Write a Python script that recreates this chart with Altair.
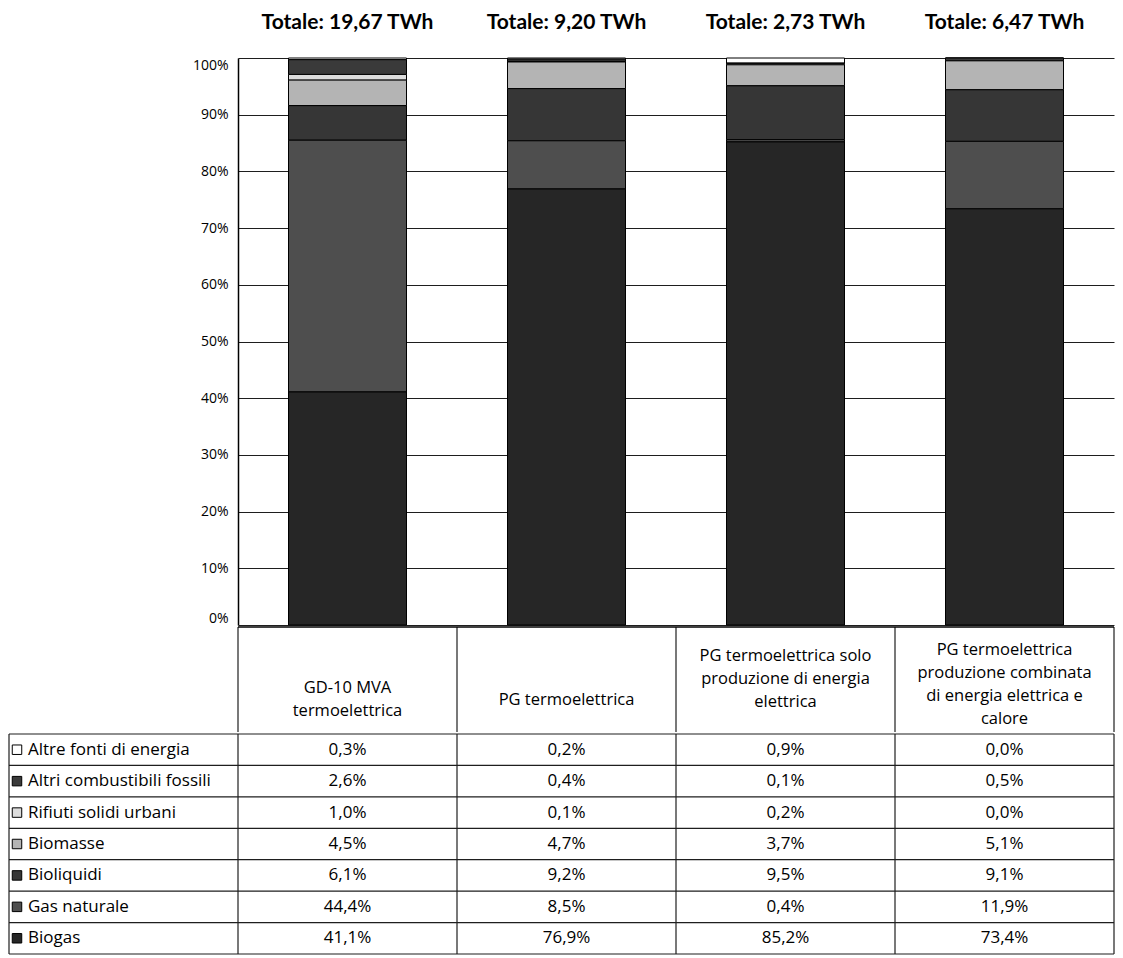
import altair as alt
import pandas as pd

# ---- data ----
columns = [
    "GD-10 MVA\ntermoelettrica",
    "PG termoelettrica",
    "PG termoelettrica solo\nproduzione di energia\nelettrica",
    "PG termoelettrica\nproduzione combinata\ndi energia elettrica  e\ncalore",
]
col_ids = ["c1", "c2", "c3", "c4"]
totals = ["Totale: 19,67 TWh", "Totale: 9,20 TWh", "Totale: 2,73 TWh", "Totale: 6,47 TWh"]

# table order (top to bottom)
sources = [
    "Altre fonti di energia",
    "Altri combustibili fossili",
    "Rifiuti solidi urbani",
    "Biomasse",
    "Bioliquidi",
    "Gas naturale",
    "Biogas",
]
altre_fonti = [0.3, 0.2, 0.9, 0.0]
altri_comb = [2.6, 0.4, 0.1, 0.5]
rifiuti = [1.0, 0.1, 0.2, 0.0]
biomasse = [4.5, 4.7, 3.7, 5.1]
bioliquidi = [6.1, 9.2, 9.5, 9.1]
gas_naturale = [44.4, 8.5, 0.4, 11.9]
biogas = [41.1, 76.9, 85.2, 73.4]
series = [altre_fonti, altri_comb, rifiuti, biomasse, bioliquidi, gas_naturale, biogas]

colors = ["#ffffff", "#3a3a3a", "#dcdcdc", "#b4b4b4", "#363636", "#4e4e4e", "#262626"]

rows = []
for si, (s, vals) in enumerate(zip(sources, series)):
    for ci, v in enumerate(vals):
        rows.append({
            "col": col_ids[ci],
            "source": s,
            "value": v,
            "label": f"{v:.1f}%".replace(".", ","),
            "stack": len(sources) - si,  # Biogas at the bottom
        })
df = pd.DataFrame(rows)
df_cols = pd.DataFrame({
    "col": col_ids,
    "header": columns,
    "nlines": [h.count("\n") + 1 for h in columns],
    "total": totals,
})
df_src = pd.DataFrame({"source": sources})
one = pd.DataFrame({"k": [0]})

W = 876
LEFT = -229
H_BARS = 567
H_HEAD = 105
H_ROWS = 220
FONT = "Open Sans"
TFONT = "Lato"
LINE = "#1e1e1e"
TS = 17

xscale = alt.Scale(domain=col_ids, paddingInner=0, paddingOuter=0)
cscale = alt.Scale(domain=sources, range=colors)

# ---- stacked bars ----
bars = alt.Chart(df).mark_bar(size=118, stroke="#000000", strokeWidth=1).encode(
    x=alt.X("col:N", scale=xscale, axis=None),
    y=alt.Y("value:Q", stack="normalize",
            scale=alt.Scale(domain=[0, 1], nice=False),
            axis=alt.Axis(format=".0%",
                          values=[0, 0.1, 0.2, 0.3, 0.4, 0.5, 0.6, 0.7, 0.8, 0.9, 1.0],
                          labelOverlap=False, labelFlush=True,
                          title=None, grid=True, gridColor=LINE, gridWidth=1,
                          domainColor="#000000", domainWidth=1.5, ticks=False,
                          labelFont=FONT, labelFontSize=14, labelColor="#000000",
                          labelPadding=10)),
    color=alt.Color("source:N", scale=cscale, legend=None),
    order=alt.Order("stack:Q"),
)

tot_text = alt.Chart(df_cols).mark_text(
    font=TFONT, fontSize=21, fontWeight="bold", color="#000000", baseline="middle"
).encode(
    x=alt.X("col:N", scale=xscale),
    y=alt.value(-35),
    text="total:N",
)

top_chart = alt.layer(bars, tot_text).properties(width=W, height=H_BARS)

# ---- header row of the table ----
head_text = alt.Chart(df_cols).mark_text(
    font=FONT, fontSize=TS - 0.5, color="#000000", lineBreak="\n", lineHeight=23, baseline="middle"
).encode(
    x=alt.X("col:N", scale=xscale, axis=None),
    y=alt.Y("nlines:Q", scale=alt.Scale(domain=[1, 2, 3, 4], range=[73, 61, 29, 23]), axis=None),
    text="header:N",
)
head_vlines = alt.Chart(df_cols).mark_rule(color=LINE, strokeWidth=1.2).encode(
    x=alt.X("col:N", scale=xscale, bandPosition=0, axis=None),
    y=alt.value(0), y2=alt.value(H_HEAD),
)
head_right = alt.Chart(one).mark_rule(color=LINE, strokeWidth=1.2).encode(
    x=alt.value(W), y=alt.value(0), y2=alt.value(H_HEAD),
)
head_top = alt.Chart(one).mark_rule(color="#000000", strokeWidth=1.5).encode(
    y=alt.value(0), x=alt.value(0), x2=alt.value(W),
)
head_chart = alt.layer(head_vlines, head_right, head_top, head_text).properties(
    width=W, height=H_HEAD
)

# ---- data rows ----
yscale = alt.Scale(domain=sources, paddingInner=0, paddingOuter=0)
cell_text = alt.Chart(df).mark_text(
    font=FONT, fontSize=TS, color="#000000", baseline="middle"
).encode(
    x=alt.X("col:N", scale=xscale, axis=None),
    y=alt.Y("source:N", scale=yscale, axis=None),
    text="label:N",
)
row_text = alt.Chart(df_src).mark_text(
    font=FONT, fontSize=TS, color="#000000", align="left", baseline="middle"
).encode(
    x=alt.value(LEFT + 19),
    y=alt.Y("source:N", scale=yscale, axis=None),
    text="source:N",
)
swatch = alt.Chart(df_src).mark_square(size=90, stroke="#000000", strokeWidth=1, opacity=1).encode(
    x=alt.value(LEFT + 8),
    y=alt.Y("source:N", scale=yscale, axis=None),
    fill=alt.Fill("source:N", scale=cscale, legend=None),
)
hlines = alt.Chart(df_src).mark_rule(color=LINE, strokeWidth=1.2).encode(
    y=alt.Y("source:N", scale=yscale, bandPosition=0, axis=None),
    x=alt.value(LEFT), x2=alt.value(W),
)
bottom_line = alt.Chart(one).mark_rule(color=LINE, strokeWidth=1.2).encode(
    y=alt.value(H_ROWS), x=alt.value(LEFT), x2=alt.value(W),
)
row_vlines = alt.Chart(df_cols).mark_rule(color=LINE, strokeWidth=1.2).encode(
    x=alt.X("col:N", scale=xscale, bandPosition=0, axis=None),
    y=alt.value(0), y2=alt.value(H_ROWS),
)
left_edge = alt.Chart(one).mark_rule(color=LINE, strokeWidth=1.2).encode(
    x=alt.value(LEFT), y=alt.value(0), y2=alt.value(H_ROWS),
)
right_edge = alt.Chart(one).mark_rule(color=LINE, strokeWidth=1.2).encode(
    x=alt.value(W), y=alt.value(0), y2=alt.value(H_ROWS),
)
rows_chart = alt.layer(
    hlines, bottom_line, row_vlines, left_edge, right_edge, cell_text, row_text, swatch
).properties(width=W, height=H_ROWS)

chart = alt.vconcat(top_chart, head_chart, rows_chart, spacing=0).properties(
    padding={"left": 0, "top": 4, "right": 0, "bottom": 0},
    background="#ffffff",
).configure_view(stroke=None).configure_concat(spacing=0)

chart.save("out.html", embed_options={"renderer": "svg", "actions": False})
